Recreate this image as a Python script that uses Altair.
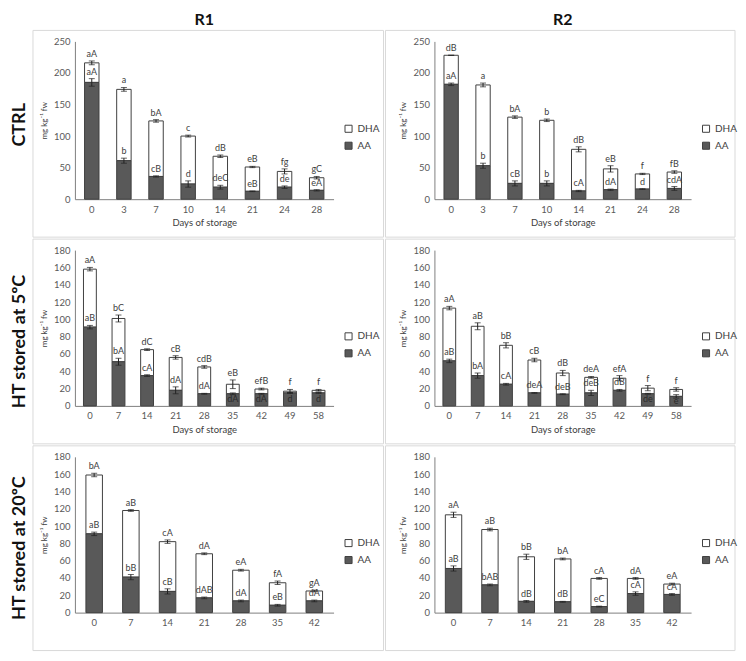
import altair as alt
import pandas as pd

FONT = "Lato"
DARK = "#595959"
EDGE = "#404040"

# ---------------- CTRL, R1 ----------------
ctrl_r1_days = [0, 3, 7, 10, 14, 21, 24, 28]
ctrl_r1_total = [216, 174, 124, 100, 68, 51, 44, 34]
ctrl_r1_total_err = [3, 3, 2, 1.5, 2, 1, 4, 2]
ctrl_r1_aa = [185, 61, 36, 24, 19, 12.5, 19, 14]
ctrl_r1_aa_err = [6, 4, 1, 5, 3, 0.5, 2, 1]
ctrl_r1_top_lab = ["aA", "a", "bA", "c", "dB", "eB", "fg", "gC"]
ctrl_r1_aa_lab = ["aA", "b", "cB", "d", "deC", "eB", "de", "eA"]

# ---------------- CTRL, R2 ----------------
ctrl_r2_days = [0, 3, 7, 10, 14, 21, 24, 28]
ctrl_r2_total = [228, 181, 130, 125, 79, 48, 40, 43]
ctrl_r2_total_err = [0, 3, 2, 2, 4, 5, 1, 2]
ctrl_r2_aa = [182, 53, 25, 25, 13, 15, 16, 17]
ctrl_r2_aa_err = [2, 4, 4, 4, 1, 1, 0.5, 3]
ctrl_r2_top_lab = ["dB", "a", "bA", "b", "dB", "eB", "f", "fB"]
ctrl_r2_aa_lab = ["aA", "b", "cB", "b", "cA", "dA", "d", "cdA"]

# ---------------- HT stored at 5ºC, R1 ----------------
ht5_r1_days = [0, 7, 14, 21, 28, 35, 42, 49, 58]
ht5_r1_total = [158, 101, 65, 56, 45, 25, 19.5, 17, 18]
ht5_r1_total_err = [2, 4, 1, 2, 1.5, 5, 1, 2, 1]
ht5_r1_aa = [91, 51, 35, 18, 14, 14, 14, 15, 15]
ht5_r1_aa_err = [2, 4, 1, 4, 0.5, 1, 0.5, 0.5, 0.5]
ht5_r1_top_lab = ["aA", "bC", "dC", "cB", "cdB", "eB", "efB", "f", "f"]
ht5_r1_aa_lab = ["aB", "bA", "cA", "dA", "dA", "dA", "dA", "d", "d"]

# ---------------- HT stored at 5ºC, R2 ----------------
ht5_r2_days = [0, 7, 14, 21, 28, 35, 42, 49, 58]
ht5_r2_total = [113, 92, 70, 53, 38, 33, 32, 20.5, 19]
ht5_r2_total_err = [2, 4, 3, 2, 3, 1, 3, 3, 2]
ht5_r2_aa = [52, 35, 25, 15, 13.5, 15, 18, 14, 11]
ht5_r2_aa_err = [2, 3, 1, 0.5, 0.5, 3, 1, 0.5, 2]
ht5_r2_top_lab = ["aA", "aB", "bB", "cB", "dB", "deA", "efA", "f", "f"]
ht5_r2_aa_lab = ["aB", "bA", "cA", "deA", "deB", "deB", "dB", "de", "e"]

# ---------------- HT stored at 20ºC, R1 ----------------
ht20_r1_days = [0, 7, 14, 21, 28, 35, 42]
ht20_r1_total = [159, 118, 82, 68, 49, 34.5, 25]
ht20_r1_total_err = [2, 1, 2, 1, 1, 2, 1]
ht20_r1_aa = [91, 41, 24.5, 17, 13.5, 8.5, 13.5]
ht20_r1_aa_err = [2, 3, 3, 1, 1, 1, 1]
ht20_r1_top_lab = ["bA", "aB", "cA", "dA", "eA", "fA", "gA"]
ht20_r1_aa_lab = ["aB", "bB", "cB", "dAB", "dA", "eB", "dA"]

# ---------------- HT stored at 20ºC, R2 ----------------
ht20_r2_days = [0, 7, 14, 21, 28, 35, 42]
ht20_r2_total = [113, 96, 64.5, 62, 39.5, 39.5, 33]
ht20_r2_total_err = [3, 1.5, 3, 1, 1, 1, 1]
ht20_r2_aa = [51, 32, 13, 12.5, 7, 22, 21]
ht20_r2_aa_err = [3, 1, 1, 0.5, 0.5, 2, 1]
ht20_r2_top_lab = ["aA", "aB", "bB", "bA", "cA", "dA", "eA"]
ht20_r2_aa_lab = ["aB", "bAB", "dB", "dB", "eC", "cA", "cA"]

col_titles = ["R1", "R2"]
row_titles = ["CTRL", "HT stored at 5ºC", "HT stored at 20ºC"]
legend_domain = ["DHA", "AA"]
y_title = "mg kg\u207b\u00b9 fw"
x_title = "Days of storage"


def panel(days, total, total_err, aa, aa_err, top_lab, aa_lab,
          ymax, ystep, W, H, xt, left, right, ctitle=None):
    df = pd.DataFrame(dict(day=days, total=total, total_err=total_err, aa=aa,
                           aa_err=aa_err, top_lab=top_lab, aa_lab=aa_lab))
    err_df = pd.DataFrame(dict(day=days + days, center=total + aa,
                               err=total_err + aa_err))

    if xt:
        xax = alt.Axis(title=xt, labelAngle=0, labelPadding=5, titlePadding=4,
                       titleFontSize=9.5, labelFontSize=9.5)
    else:
        xax = alt.Axis(title=None, labelAngle=0, labelPadding=5, labelFontSize=9.5)
    xs = alt.Scale(paddingInner=0.55, paddingOuter=0.3)
    yax = alt.Axis(title=y_title, values=list(range(0, ymax + 1, ystep)),
                   titleFontSize=8, titlePadding=5, labelPadding=5,
                   labelFontSize=9.5)
    ys = alt.Scale(domain=[0, ymax], nice=False)

    def X():
        return alt.X("day:O", sort=days, axis=xax, scale=xs)

    def Y(f):
        return alt.Y(f, axis=yax, scale=ys)

    color = alt.Color(
        "comp:N",
        scale=alt.Scale(domain=legend_domain, range=["#ffffff", DARK]),
        legend=alt.Legend(title=None, orient="none", legendX=W + 10,
                          legendY=H * 0.56 - 6, symbolType="square",
                          symbolStrokeColor=EDGE, symbolStrokeWidth=1,
                          symbolSize=50, labelFontSize=10, labelColor=EDGE,
                          labelFont=FONT, rowPadding=5, padding=0),
    )

    base = alt.Chart(df)
    border = alt.Chart(pd.DataFrame({"k": [0]})).mark_rect(
        fill="#ffffff", fillOpacity=0, stroke="#d9d9d9", strokeWidth=1
    ).encode(x=alt.value(left), x2=alt.value(W + right),
             y=alt.value(-11), y2=alt.value(H + 38))

    bar_aa = base.transform_calculate(comp="'AA'").mark_bar(
        stroke=EDGE, strokeWidth=1).encode(x=X(), y=Y("aa:Q"), color=color)
    bar_dha = base.transform_calculate(comp="'DHA'").mark_bar(
        stroke=EDGE, strokeWidth=1).encode(x=X(), y=Y("aa:Q"), y2="total:Q",
                                           color=color)

    eb = alt.Chart(err_df).transform_calculate(
        lo="datum.center - datum.err", hi="datum.center + datum.err")
    rule = eb.mark_rule(color="#222222", strokeWidth=1).encode(
        x=X(), y=Y("lo:Q"), y2="hi:Q")
    cap_lo = eb.mark_tick(color="#222222", thickness=1, size=6).encode(
        x=X(), y=Y("lo:Q"))
    cap_hi = eb.mark_tick(color="#222222", thickness=1, size=6).encode(
        x=X(), y=Y("hi:Q"))

    lab = base.transform_calculate(
        thi="datum.total + datum.total_err",
        ahi="datum.aa + datum.aa_err",
        inb="(datum.total - datum.total_err) - (datum.aa + datum.aa_err) < 8 ? 1 : 0",
        amid="datum.aa * 0.55",
    )
    top_text = lab.mark_text(baseline="bottom", dy=-2, fontSize=9, font=FONT,
                             color=EDGE).encode(x=X(), y=Y("thi:Q"),
                                                text="top_lab:N")
    aa_text_above = lab.transform_filter("datum.inb == 0").mark_text(
        baseline="bottom", dy=-2, fontSize=9, font=FONT, color=EDGE
    ).encode(x=X(), y=Y("ahi:Q"), text="aa_lab:N")
    aa_text_in = lab.transform_filter("datum.inb == 1").mark_text(
        baseline="middle", fontSize=9, font=FONT, color="#2a2a2a"
    ).encode(x=X(), y=Y("amid:Q"), text="aa_lab:N")

    ch = alt.layer(border, bar_dha, bar_aa, rule, cap_lo, cap_hi,
                   top_text, aa_text_above, aa_text_in).properties(width=W, height=H)
    if ctitle:
        ch = ch.properties(title=alt.Title(ctitle, fontSize=16, font=FONT,
                                           fontWeight="bold", color="#111111",
                                           offset=2))
    return ch


W1, W2 = 259, 257
H1, H2 = 158, 156


def row_title(t):
    return alt.Title(t, orient="left", anchor="middle", fontSize=18,
                     font=FONT, fontWeight="bold", color="#111111", offset=3)


r1 = alt.hconcat(
    panel(ctrl_r1_days, ctrl_r1_total, ctrl_r1_total_err, ctrl_r1_aa, ctrl_r1_aa_err,
          ctrl_r1_top_lab, ctrl_r1_aa_lab, 250, 50, W1, H1, x_title, -42, 50, col_titles[0]),
    panel(ctrl_r2_days, ctrl_r2_total, ctrl_r2_total_err, ctrl_r2_aa, ctrl_r2_aa_err,
          ctrl_r2_top_lab, ctrl_r2_aa_lab, 250, 50, W2, H1, x_title, -49, 44, col_titles[1]),
    spacing=0, title=row_title(row_titles[0]),
).resolve_scale(color="independent")

r2 = alt.hconcat(
    panel(ht5_r1_days, ht5_r1_total, ht5_r1_total_err, ht5_r1_aa, ht5_r1_aa_err,
          ht5_r1_top_lab, ht5_r1_aa_lab, 180, 20, W1, H2, x_title, -42, 50),
    panel(ht5_r2_days, ht5_r2_total, ht5_r2_total_err, ht5_r2_aa, ht5_r2_aa_err,
          ht5_r2_top_lab, ht5_r2_aa_lab, 180, 20, W2, H2, x_title, -49, 44),
    spacing=0, title=row_title(row_titles[1]),
).resolve_scale(color="independent")

r3 = alt.hconcat(
    panel(ht20_r1_days, ht20_r1_total, ht20_r1_total_err, ht20_r1_aa, ht20_r1_aa_err,
          ht20_r1_top_lab, ht20_r1_aa_lab, 180, 20, W1, H2, None, -42, 50),
    panel(ht20_r2_days, ht20_r2_total, ht20_r2_total_err, ht20_r2_aa, ht20_r2_aa_err,
          ht20_r2_top_lab, ht20_r2_aa_lab, 180, 20, W2, H2, None, -49, 44),
    spacing=0, title=row_title(row_titles[2]),
).resolve_scale(color="independent")

chart = alt.vconcat(r1, r2, r3, spacing=0).resolve_scale(
    color="independent"
).properties(
    padding={"left": 3, "top": 3, "right": 0, "bottom": 0}
).configure_view(strokeWidth=0).configure_axis(
    labelFont=FONT, titleFont=FONT, labelColor=DARK, titleColor=EDGE,
    domainColor="#7f7f7f", ticks=False, grid=False, titleFontWeight="normal"
).configure_concat(spacing=0)

chart.save("out.html", embed_options={"renderer": "svg", "actions": False})
